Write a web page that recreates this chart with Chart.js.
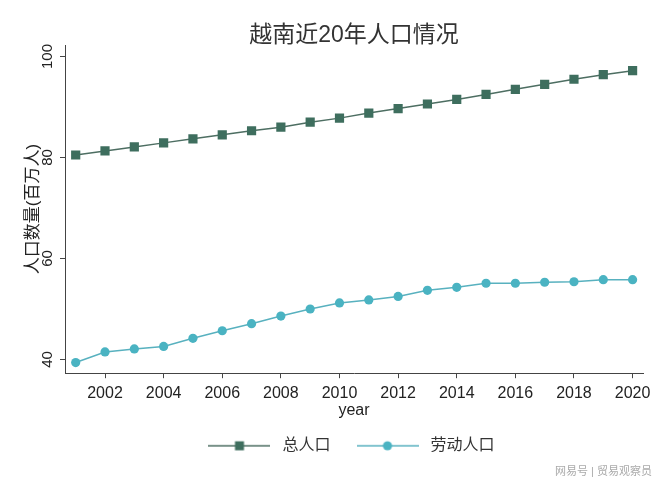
<!DOCTYPE html>
<html>
<head>
<meta charset="utf-8">
<title>越南近20年人口情况</title>
<script src="https://cdn.jsdelivr.net/npm/chart.js@4/dist/chart.umd.min.js"></script>
<style>
  html, body { margin: 0; padding: 0; background: #fff; }
  #wrap { width: 660px; height: 481px; }
</style>
</head>
<body>
<div id="wrap"><canvas id="popChart" width="660" height="481"></canvas></div>
<script>
// data (millions)
const years = [2001, 2002, 2003, 2004, 2005, 2006, 2007, 2008, 2009, 2010,
               2011, 2012, 2013, 2014, 2015, 2016, 2017, 2018, 2019, 2020];
const totalPop = [80.5, 81.3, 82.1, 82.9, 83.7, 84.5, 85.3, 86.0, 87.0, 87.8,
                  88.8, 89.7, 90.6, 91.5, 92.5, 93.5, 94.5, 95.5, 96.4, 97.2];
const laborPop = [39.4, 41.5, 42.1, 42.6, 44.2, 45.7, 47.1, 48.6, 50.0, 51.2,
                  51.8, 52.5, 53.7, 54.3, 55.1, 55.1, 55.3, 55.4, 55.8, 55.8];
const xTicks = [2002, 2004, 2006, 2008, 2010, 2012, 2014, 2016, 2018, 2020];
const yTicks = [40, 60, 80, 100];
const seriesNames = ["总人口", "劳动人口"];
const titleText = "越南近20年人口情况";
const yTitle = "人口数量(百万人)";
const xTitle = "year";
const watermark = "网易号 | 贸易观察员";

const FONT = '"Liberation Sans", "Noto Sans CJK SC", sans-serif';
const GREEN = "#3e6e5e";
const GREEN_LINE = "#4d6e62";
const TEAL = "#4ab3c2";
const TEAL_LINE = "#58b1bf";
const AXIS = "#444";

// legend icons: short line with the marker in the middle
function legendIcon(color, lineColor, shape) {
    const c = document.createElement("canvas");
    c.width = 62;
    c.height = 12;
    const g = c.getContext("2d");
    g.strokeStyle = lineColor;
    g.lineWidth = 1.5;
    g.beginPath();
    g.moveTo(0, 6);
    g.lineTo(62, 6);
    g.stroke();
    g.fillStyle = color;
    if (shape === "rect") {
        g.fillRect(26.5, 1.5, 9, 9);
    } else {
        g.beginPath();
        g.arc(31, 6, 4.6, 0, Math.PI * 2);
        g.fill();
    }
    return c;
}
const icons = [legendIcon(GREEN, GREEN_LINE, "rect"), legendIcon(TEAL, TEAL_LINE, "circle")];

// keep title / legend / watermark over the plot area like the original
const alignBoxes = {
    id: "alignBoxes",
    afterLayout(chart) {
        const a = chart.chartArea;
        chart.titleBlock.left = a.left;
        chart.titleBlock.right = a.right;
        chart.legend.left = a.left - 9;
        chart.legend.right = a.right;
        chart.boxes.forEach(b => {
            if (b.options && b.options.text === watermark) {
                b.right = 652;
            }
        });
    }
};

const ctx = document.getElementById("popChart").getContext("2d");
new Chart(ctx, {
    type: "line",
    data: {
        datasets: [{
            label: seriesNames[0],
            data: years.map((y, i) => ({ x: y, y: totalPop[i] })),
            borderColor: GREEN_LINE,
            backgroundColor: GREEN,
            borderWidth: 1.5,
            pointStyle: "rect",
            pointRadius: 6.5,
            pointBorderWidth: 0,
            pointBackgroundColor: GREEN,
            tension: 0
        }, {
            label: seriesNames[1],
            data: years.map((y, i) => ({ x: y, y: laborPop[i] })),
            borderColor: TEAL_LINE,
            backgroundColor: TEAL,
            borderWidth: 1.5,
            pointStyle: "circle",
            pointRadius: 4.6,
            pointBorderWidth: 0,
            pointBackgroundColor: TEAL,
            tension: 0
        }]
    },
    options: {
        responsive: false,
        animation: false,
        layout: { padding: { left: 0, right: 17, top: 0, bottom: 0 } },
        scales: {
            x: {
                type: "linear",
                min: 2000.635,
                max: 2020.355,
                afterBuildTicks: s => { s.ticks = xTicks.map(v => ({ value: v })); },
                afterFit: s => { s.height = 42.6; },
                ticks: {
                    color: "#222",
                    font: { family: FONT, size: 16 },
                    padding: 6,
                    maxRotation: 0,
                    callback: v => String(v)
                },
                grid: { display: true, drawOnChartArea: false, tickLength: 5, color: AXIS },
                border: { display: true, color: AXIS, width: 1 },
                title: {
                    display: true,
                    text: xTitle,
                    color: "#222",
                    font: { family: FONT, size: 16 },
                    padding: { top: 0, bottom: -4 }
                }
            },
            y: {
                type: "linear",
                min: 37.29,
                max: 102.28,
                afterBuildTicks: s => { s.ticks = yTicks.map(v => ({ value: v })); },
                afterFit: s => { s.width = 65; },
                ticks: {
                    color: "#222",
                    font: { family: FONT, size: 15 },
                    minRotation: 90,
                    maxRotation: 90,
                    crossAlign: "center",
                    padding: 0
                },
                grid: { display: true, drawOnChartArea: false, tickLength: 5, color: AXIS },
                border: { display: true, color: AXIS, width: 1 },
                title: {
                    display: true,
                    text: yTitle,
                    color: "#222",
                    font: { family: FONT, size: 17 },
                    padding: { top: 23, bottom: 0 }
                }
            }
        },
        plugins: {
            title: {
                display: true,
                text: titleText,
                color: "#333",
                font: { family: FONT, size: 23, weight: "normal", lineHeight: 1 },
                padding: { top: 24, bottom: -2 }
            },
            subtitle: {
                display: true,
                position: "bottom",
                align: "end",
                text: watermark,
                color: "#aaa",
                font: { family: FONT, size: 11, weight: "normal" },
                padding: { top: 2, bottom: 2 }
            },
            legend: {
                display: true,
                position: "bottom",
                labels: {
                    color: "#333",
                    font: { family: FONT, size: 16 },
                    usePointStyle: true,
                    pointStyleWidth: 70,
                    padding: 22,
                    generateLabels: chart => {
                        const items = Chart.defaults.plugins.legend.labels.generateLabels(chart);
                        items.forEach((it, i) => { it.pointStyle = icons[i]; });
                        return items;
                    }
                }
            },
            tooltip: { enabled: false }
        }
    },
    plugins: [alignBoxes]
});
</script>
</body>
</html>
